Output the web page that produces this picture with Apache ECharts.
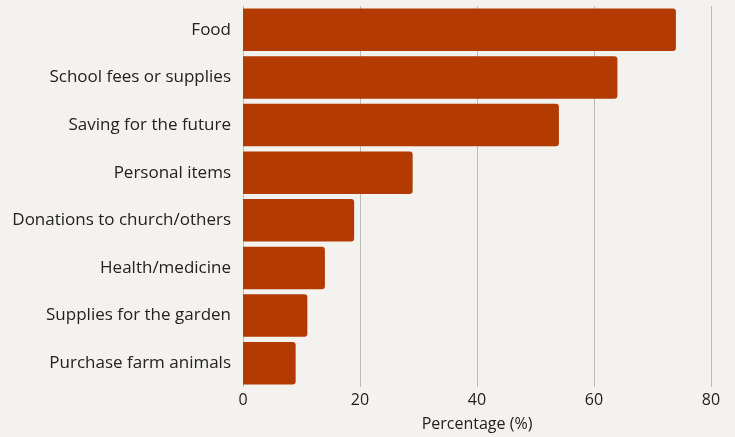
<!DOCTYPE html>
<html><head><meta charset="utf-8">
<script src="https://cdn.jsdelivr.net/npm/echarts@6/dist/echarts.min.js"></script>
<style>html,body{margin:0;padding:0;background:#f3f2ee}#c{width:735px;height:437px}</style>
</head><body><div id="c"></div>
<script>
const categories = ["Food","School fees or supplies","Saving for the future","Personal items","Donations to church/others","Health/medicine","Supplies for the garden","Purchase farm animals"];
const values = [74,64,54,29,19,14,11,9];
const xTicks = [0,20,40,60,80];
const chart = echarts.init(document.getElementById('c'));
const font = '"Open Sans", Lato, sans-serif';
chart.setOption({
  backgroundColor: '#f3f2ee',
  animation: false,
  grid: {left: 243, right: 24, top: 6, bottom: 50, containLabel: false, outerBoundsMode: 'none'},
  xAxis: {
    type: 'value', min: xTicks[0], max: xTicks[xTicks.length-1], interval: 20,
    name: 'Percentage (%)', nameLocation: 'middle', nameGap: 29,
    nameTextStyle: {fontFamily: font, fontSize: 16, color: '#222'},
    axisLine: {show: false}, axisTick: {show: false},
    axisLabel: {fontFamily: font, fontSize: 16, color: '#222', margin: 5},
    splitLine: {show: true, lineStyle: {color: '#bdbbb7', width: 1}}
  },
  yAxis: {
    type: 'category', data: categories, inverse: true,
    axisLine: {show: false}, axisTick: {show: false},
    axisLabel: {fontFamily: font, fontSize: 17, color: '#222', margin: 12}
  },
  series: [{
    type: 'bar', data: values, barCategoryGap: '11%',
    itemStyle: {color: '#b33a00', borderRadius: [0,3,3,0]}
  }]
});
</script></body></html>
